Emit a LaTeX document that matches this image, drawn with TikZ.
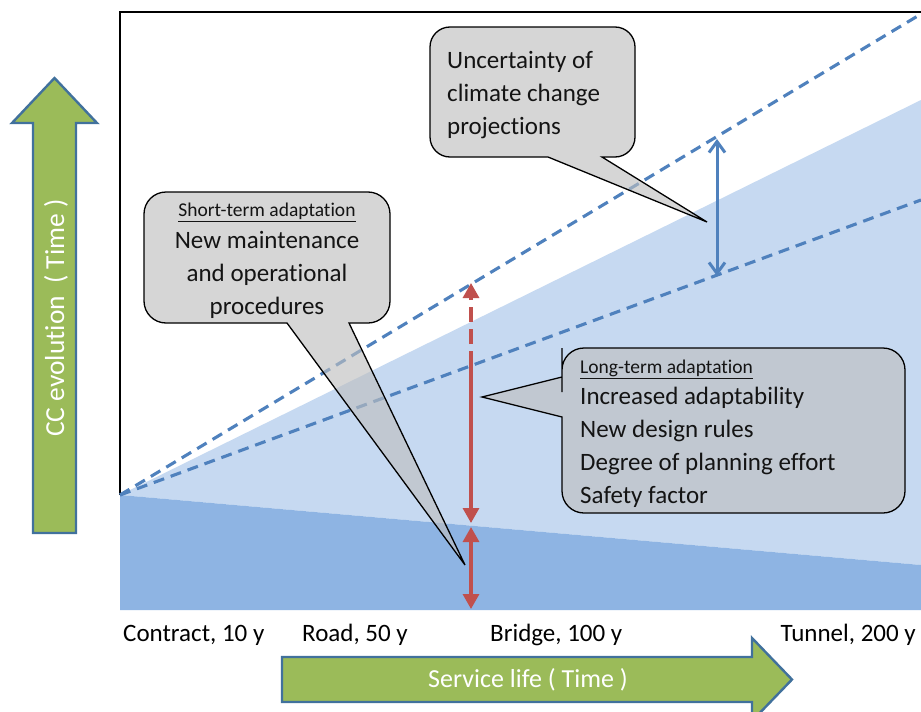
\documentclass[tikz,border=0pt]{standalone}
\usepackage{fontspec}
\setmainfont{Carlito}[Ligatures=NoCommon]
\usetikzlibrary{arrows.meta}
\definecolor{lblue}{HTML}{C6D9F1}
\definecolor{dblue}{HTML}{8EB4E3}
\definecolor{lineblue}{HTML}{4F81BD}
\definecolor{redarr}{HTML}{C0504D}
\definecolor{ggreen}{HTML}{9BBB59}
\definecolor{gedge}{HTML}{41719C}
\definecolor{callgray}{HTML}{BFBFBF}
\definecolor{txt}{HTML}{141414}
\begin{document}
\begin{tikzpicture}[x=1pt,y=-1pt,
  dashln/.style={lineblue,line width=3.1pt,dash pattern=on 11pt off 7pt},
  blueln/.style={lineblue,line width=3pt},
  redln/.style={redarr,line width=3.2pt},
  reddash/.style={redarr,line width=3.2pt,dash pattern=on 15pt off 7pt},
  callout/.style={draw=black,line width=1.3pt,fill=callgray,fill opacity=0.63,draw opacity=1},
  garrow/.style={fill=ggreen,draw=gedge,line width=2.4pt,line join=miter},
  big/.style={font=\fontsize{25}{33}\selectfont,text=txt,inner sep=0pt},
  head/.style={font=\fontsize{19.5}{24}\selectfont,text=txt,inner sep=0pt},
  axlab/.style={font=\fontsize{25}{30}\selectfont,text=black,inner sep=0pt},
  wtxt/.style={font=\fontsize{26}{30}\selectfont,text=white,inner sep=0pt}
]
\useasboundingbox (0,0) rectangle (921,712);
\fill[white] (0,0) rectangle (921,712);

% regions
\coordinate (O) at (120,495);
\fill[lblue] (O) -- (921,100) -- (921,565) -- cycle;
\fill[dblue] (O) -- (921,565) -- (921,610) -- (120,610) -- cycle;

% frame
\draw[line width=1.2pt] (O) -- (120,12) -- (921,12);

% projection lines
\coordinate (hiEnd) at (921,14);
\coordinate (loEnd) at (921,200);
\draw[dashln] (O) -- (hiEnd);
\draw[dashln] (O) -- (loEnd);

% uncertainty arrow
\coordinate (bTop) at (717,139);
\coordinate (bBot) at (717,276);
\draw[blueln,{Straight Barb[length=11pt,width=16pt]}-{Straight Barb[length=11pt,width=16pt]}] (bTop) -- (bBot);

% red arrows
\coordinate (rTop) at (471,283);
\coordinate (rMid) at (471,366);
\coordinate (rLow) at (471,523);
\coordinate (rLow2) at (471,527);
\coordinate (rBot) at (471,609);
\draw[reddash,-{Triangle[length=15pt,width=16pt]}] (rMid) -- (rTop);
\draw[redln,-{Triangle[length=15pt,width=16pt]}] (rMid) -- (rLow);
\draw[redln,{Triangle[length=15pt,width=16pt]}-{Triangle[length=15pt,width=16pt]}] (rLow2) -- (rBot);

% callout 1: uncertainty
\coordinate (c1tip) at (707,222);
\draw[callout] (635,92) [rounded corners=20pt] -- (635,27) -- (430,27) -- (430,157) -- (500,157)
  [sharp corners] -- (548,157) -- (c1tip) -- (602,157) -- (612,157)
  [rounded corners=20pt] -- (635,157) -- cycle;
\node[big,anchor=north west,align=left] (c1text) at (447,51)
  {Uncertainty of\\climate change\\projections};

% callout 2: short-term
\coordinate (c2tip) at (465,565);
\draw[callout] (390,260) [rounded corners=22pt] -- (390,192) -- (144,192) -- (144,323) -- (220,323)
  [sharp corners] -- (287,323) -- (c2tip) -- (349,323) -- (360,323)
  [rounded corners=22pt] -- (390,323) -- cycle;
\node[head,anchor=base] (c2head) at (267,216.5) {\underline{Short-term adaptation}};
\node[big,anchor=north,align=center] (c2text) at (267,231)
  {New maintenance\\and operational\\procedures};

% callout 3: long-term
\coordinate (c3tip) at (482,397);
\draw[callout] (733,348) [rounded corners=22pt] -- (562,348) -- (562,370)
  [sharp corners] -- (562,377) -- (c3tip) -- (562,417) -- (562,440)
  [rounded corners=22pt] -- (562,513) -- (905,513) -- (905,348) -- cycle;
\node[head,anchor=base west] (c3head) at (580,373.5) {\underline{Long-term adaptation}};
\node[big,anchor=north west,align=left] (c3text) at (580,387)
  {Increased adaptability\\New design rules\\Degree of planning effort\\Safety factor};

% axis labels
\node[axlab,anchor=base west] (lab1) at (123,641) {Contract, 10 y};
\node[axlab,anchor=base west] (lab2) at (302,641) {Road, 50 y};
\node[axlab,anchor=base west] (lab3) at (490,641) {Bridge, 100 y};
\node[axlab,anchor=base east] (lab4) at (916,641) {Tunnel, 200 y};

% green arrows
\draw[garrow] (33,533) -- (33,123) -- (12,123) -- (54.5,78) -- (97,123) -- (76,123) -- (76,533) -- cycle;
\node[wtxt,rotate=90,font=\fontsize{27.5}{30}\selectfont] (vtext) at (56,318) {CC evolution\ \ ( Time )};

\draw[garrow] (282,657) -- (752,657) -- (752,638) -- (792,679.5) -- (752,721) -- (752,702) -- (282,702) -- cycle;
\node[wtxt] (htext) at (528,680) {Service life ( Time )};
\end{tikzpicture}
\end{document}
